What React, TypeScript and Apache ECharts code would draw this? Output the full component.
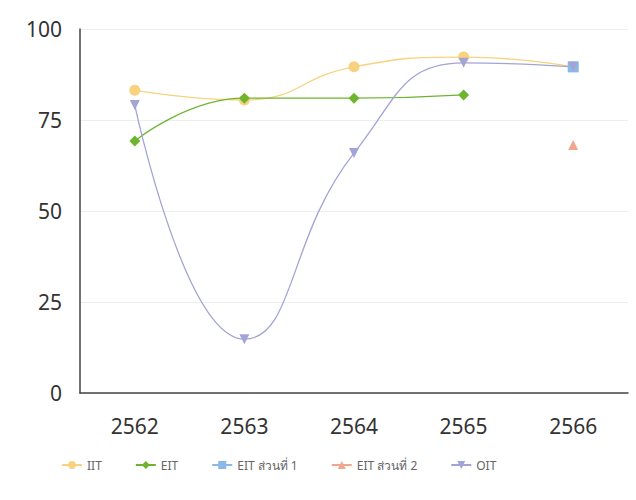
import React, { useEffect, useRef } from "react";
import * as echarts from "echarts";

const years = ["2562", "2563", "2564", "2565", "2566"];
const iit = [83.2, 80.5, 89.6, 92.3, 89.6];
const eit = [69.2, 81, 81, 81.9, null];
const eit1 = [null, null, null, null, 89.6];
const eit2 = [null, null, null, null, 68.1];
const oit = [79.1, 14.8, 65.9, 90.7, 89.6];
const yTicks = [0, 25, 50, 75, 100];

export default function App() {
  const ref = useRef<HTMLDivElement>(null);
  useEffect(() => {
    if (!ref.current) return;
    const chart = echarts.init(ref.current, undefined, { renderer: "svg" });
    const font = "'Noto Sans', 'Open Sans', sans-serif";
    chart.setOption({
      animation: false,
      textStyle: { fontFamily: font },
      grid: { left: 80, right: 8, top: 29, bottom: 107 },
      legend: {
        top: 454,
        left: 56,
        itemGap: 33,
        itemWidth: 20,
        itemHeight: 10,
        textStyle: { color: "#666", fontSize: 12, fontFamily: font },
        data: ["IIT", "EIT", "EIT ส่วนที่ 1", "EIT ส่วนที่ 2", "OIT"],
      },
      xAxis: {
        type: "category",
        data: years,
        axisLine: { lineStyle: { color: "#444", width: 1.5 } },
        axisTick: { show: false },
        axisLabel: { color: "#333", fontSize: 21, margin: 22, fontFamily: font },
      },
      yAxis: {
        type: "value",
        min: yTicks[0],
        max: yTicks[yTicks.length - 1],
        interval: 25,
        axisLine: { show: true, lineStyle: { color: "#444", width: 1.5 } },
        axisTick: { show: false },
        splitLine: { lineStyle: { color: "#eeeeee" } },
        axisLabel: { color: "#333", fontSize: 21, margin: 18, fontFamily: font },
      },
      series: [
        {
          name: "IIT",
          type: "line",
          data: iit,
          smooth: true,
          symbol: "circle",
          symbolSize: 11,
          color: "#f8d27e",
          lineStyle: { width: 1.3 },
        },
        {
          name: "EIT",
          type: "line",
          data: eit,
          smooth: true,
          symbol: "diamond",
          symbolSize: 11,
          color: "#6db52f",
          lineStyle: { width: 1.3 },
        },
        {
          name: "EIT ส่วนที่ 1",
          type: "line",
          data: eit1,
          symbol: "rect",
          symbolSize: 11,
          color: "#8ab8e8",
        },
        {
          name: "EIT ส่วนที่ 2",
          type: "line",
          data: eit2,
          symbol: "triangle",
          symbolSize: 10,
          color: "#f2a58f",
        },
        {
          name: "OIT",
          type: "line",
          data: oit,
          smooth: true,
          symbol: "triangle",
          symbolRotate: 180,
          symbolSize: 10,
          color: "#a2a4d6",
          lineStyle: { width: 1.3 },
        },
      ],
    });
    return () => chart.dispose();
  }, []);
  return (
    <div
      ref={ref}
      style={{ position: "fixed", left: 0, top: 0, width: 636, height: 500, background: "#fff" }}
    />
  );
}
